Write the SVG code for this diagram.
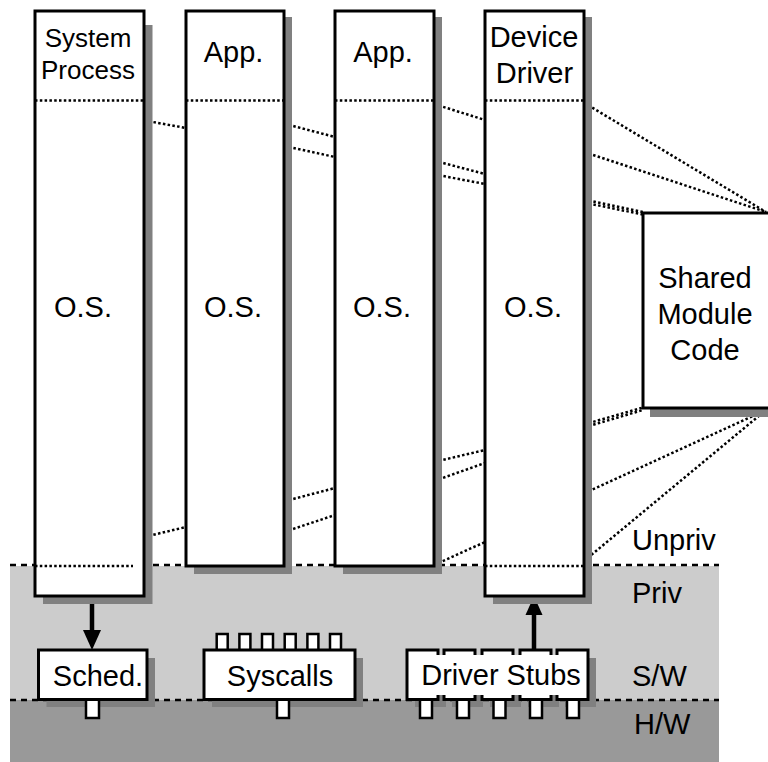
<svg xmlns="http://www.w3.org/2000/svg" width="768" height="762" viewBox="0 0 768 762">
<style>
  text { font-family: "Liberation Sans", Arial, Helvetica, sans-serif; font-size: 29px; fill: #000; }
  .mid { text-anchor: middle; }
  .box { fill: #fff; stroke: #000; stroke-width: 3; }
  .tab { fill: #fff; stroke: #000; stroke-width: 2.5; }
  .shadow { fill: #808080; }
  .dot { fill: none; stroke: #000; stroke-width: 2.5; stroke-dasharray: 2.5 2.3; }
  .dash { fill: none; stroke: #000; stroke-width: 2.5; stroke-dasharray: 6 5; }
  .arrow { stroke: #000; stroke-width: 4.5; fill: none; }
</style>
<rect width="768" height="762" fill="#fff"/>
<g id="bands">
  <rect x="10" y="566" width="709" height="134" fill="#cccccc"/>
  <rect x="10" y="700" width="709" height="62" fill="#999999"/>
  <line class="dash" x1="10" y1="565" x2="719" y2="565"/>
  <line class="dash" x1="10" y1="700" x2="719" y2="700"/>
</g>
<g id="connectors">
  <line class="dot" x1="144" y1="120.4" x2="186" y2="128"/>
  <line class="dot" x1="144" y1="537" x2="186" y2="527"/>
  <line class="dot" x1="284" y1="123.6" x2="335" y2="137"/>
  <line class="dot" x1="284" y1="146" x2="335" y2="157"/>
  <line class="dot" x1="284" y1="501.4" x2="335" y2="488"/>
  <line class="dot" x1="284" y1="532" x2="335" y2="515"/>
  <line class="dot" x1="434" y1="104" x2="485" y2="120"/>
  <line class="dot" x1="434" y1="160.6" x2="485" y2="174"/>
  <line class="dot" x1="434" y1="174.3" x2="485" y2="184"/>
  <line class="dot" x1="434" y1="462" x2="485" y2="450"/>
  <line class="dot" x1="434" y1="481" x2="485" y2="463"/>
  <line class="dot" x1="434" y1="565" x2="485" y2="542"/>
  <line class="dot" x1="584" y1="102.7" x2="766" y2="212"/>
  <line class="dot" x1="584" y1="152" x2="766" y2="212"/>
  <line class="dot" x1="584" y1="199.5" x2="643" y2="212"/>
  <line class="dot" x1="584" y1="202.5" x2="643" y2="214.5"/>
  <line class="dot" x1="584" y1="424.5" x2="643" y2="407.5"/>
  <line class="dot" x1="584" y1="427.5" x2="643" y2="410"/>
  <line class="dot" x1="584" y1="493.3" x2="766" y2="410"/>
  <line class="dot" x1="584" y1="561" x2="766" y2="410"/>
  <line class="arrow" x1="92" y1="596" x2="92" y2="632"/>
  <polygon points="83,630 101,630 92,650" fill="#000"/>
  <line class="arrow" x1="534" y1="650" x2="534" y2="613"/>
  <polygon points="525.5,615 542.5,615 534,596" fill="#000"/>
</g>
<g id="system-process">
  <rect class="shadow" x="43" y="25" width="109.5" height="579"/>
  <rect class="box" x="35" y="11" width="109" height="585"/>
  <line class="dot" x1="35" y1="100.5" x2="144" y2="100.5"/>
  <line class="dot" x1="35" y1="566" x2="133" y2="566"/>
  <text class="mid" x="88" y="47" style="font-size:26px">System</text>
  <text class="mid" x="88" y="79" style="font-size:26px">Process</text>
  <text class="mid" x="83" y="317">O.S.</text>
</g>
<g id="app1">
  <rect class="shadow" x="194" y="17" width="98" height="557"/>
  <rect class="box" x="186" y="11" width="98" height="555"/>
  <line class="dot" x1="186" y1="100.5" x2="284" y2="100.5"/>
  <text class="mid" x="233.5" y="62">App.</text>
  <text class="mid" x="233" y="317">O.S.</text>
</g>
<g id="app2">
  <rect class="shadow" x="343" y="17" width="99" height="557"/>
  <rect class="box" x="335" y="11" width="99" height="555"/>
  <line class="dot" x1="335" y1="100.5" x2="434" y2="100.5"/>
  <text class="mid" x="383" y="62">App.</text>
  <text class="mid" x="382" y="317">O.S.</text>
</g>
<g id="device-driver">
  <rect class="shadow" x="493" y="17" width="99" height="587"/>
  <rect class="box" x="485" y="11" width="99" height="585"/>
  <line class="dot" x1="485" y1="100.5" x2="584" y2="100.5"/>
  <line class="dot" x1="485" y1="566" x2="584" y2="566"/>
  <text class="mid" x="534" y="47">Device</text>
  <text class="mid" x="534.5" y="83">Driver</text>
  <text class="mid" x="533" y="317">O.S.</text>
</g>
<g id="shared-module">
  <rect class="shadow" x="650" y="221" width="126" height="196"/>
  <rect class="box" x="643" y="213" width="127" height="195"/>
  <text class="mid" x="705" y="288">Shared</text>
  <text class="mid" x="705" y="324">Module</text>
  <text class="mid" x="705" y="360">Code</text>
</g>
<g id="sched">
  <rect class="shadow" x="46.5" y="658" width="108.5" height="49"/>
  <rect class="tab" x="86" y="699" width="13" height="19"/>
  <rect class="box" x="38.5" y="650" width="108.5" height="49.5"/>
  <text class="mid" x="98" y="686">Sched.</text>
</g>
<g id="syscalls">
  <rect class="shadow" x="212" y="658" width="151" height="49"/>
  <rect class="tab" x="216.7" y="634" width="11" height="17"/>
  <rect class="tab" x="239.4" y="634" width="11" height="17"/>
  <rect class="tab" x="262" y="634" width="11" height="17"/>
  <rect class="tab" x="284.7" y="634" width="11" height="17"/>
  <rect class="tab" x="307.4" y="634" width="11" height="17"/>
  <rect class="tab" x="330" y="634" width="11" height="17"/>
  <rect class="tab" x="277" y="699" width="12" height="19"/>
  <rect class="box" x="204" y="650" width="151" height="49.5"/>
  <text class="mid" x="280" y="686">Syscalls</text>
</g>
<g id="driver-stubs">
  <rect class="shadow" x="415" y="658" width="31" height="49"/>
  <rect class="shadow" x="452" y="658" width="31" height="49"/>
  <rect class="shadow" x="490" y="658" width="31" height="49"/>
  <rect class="shadow" x="528" y="658" width="31" height="49"/>
  <rect class="shadow" x="565" y="658" width="31" height="49"/>
  <rect class="tab" x="420" y="699" width="12" height="19"/>
  <rect class="tab" x="457" y="699" width="12" height="19"/>
  <rect class="tab" x="493.5" y="699" width="12" height="19"/>
  <rect class="tab" x="530" y="699" width="12" height="19"/>
  <rect class="tab" x="567" y="699" width="12" height="19"/>
  <rect class="box" x="407" y="650" width="31" height="49.5"/>
  <rect class="box" x="444" y="650" width="31" height="49.5"/>
  <rect class="box" x="482" y="650" width="31" height="49.5"/>
  <rect class="box" x="520" y="650" width="31" height="49.5"/>
  <rect class="box" x="557" y="650" width="31" height="49.5"/>
  <rect x="409" y="655" width="177" height="40" fill="#fff"/>
  <text class="mid" x="501" y="685">Driver Stubs</text>
</g>
<g id="levels">
  <text x="632" y="550">Unpriv</text>
  <text x="632" y="603">Priv</text>
  <text x="632" y="686">S/W</text>
  <text x="634" y="734">H/W</text>
</g>
</svg>
